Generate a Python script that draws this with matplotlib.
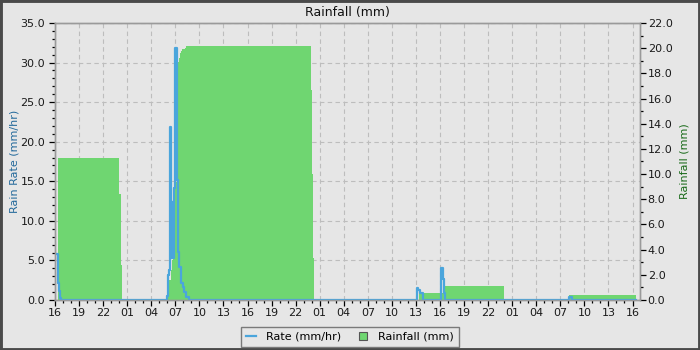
import matplotlib
matplotlib.use("Agg")
import matplotlib.pyplot as plt
import matplotlib.dates as mdates
from matplotlib.ticker import MultipleLocator, FormatStrFormatter
from matplotlib.lines import Line2D
from matplotlib.patches import Rectangle
import pandas as pd

# ---------------- data ----------------
rate_times = [
    "2024-05-20 16:12", "2024-05-20 16:20", "2024-05-20 16:27", "2024-05-20 16:35", "2024-05-20 16:42",
    "2024-05-21 05:57", "2024-05-21 06:02", "2024-05-21 06:07", "2024-05-21 06:12", "2024-05-21 06:20",
    "2024-05-21 06:26", "2024-05-21 06:29", "2024-05-21 06:35", "2024-05-21 06:38", "2024-05-21 06:44",
    "2024-05-21 06:48", "2024-05-21 06:55", "2024-05-21 07:01", "2024-05-21 07:09", "2024-05-21 07:14",
    "2024-05-21 07:21", "2024-05-21 07:29", "2024-05-21 07:39", "2024-05-21 07:46", "2024-05-21 07:54",
    "2024-05-21 08:02", "2024-05-21 08:17", "2024-05-21 08:42",
    "2024-05-22 13:07", "2024-05-22 13:17", "2024-05-22 13:32", "2024-05-22 13:50",
    "2024-05-22 16:07", "2024-05-22 16:25", "2024-05-22 16:32", "2024-05-22 16:40",
    "2024-05-23 08:05", "2024-05-23 08:30", "2024-05-23 16:25",
]
rate_values = [
    5.8, 2.1, 1.2, 0.2, 0.0,
    0.5, 1.3, 3.2, 3.8, 21.9,
    5.3, 12.4, 5.3, 12.4, 5.3,
    14.1, 15.6, 31.8, 26.9, 15.2,
    6.1, 4.2, 3.5, 2.1, 1.7,
    1.0, 0.4, 0.0,
    1.5, 1.3, 0.85, 0.0,
    4.1, 2.7, 0.85, 0.0,
    0.4, 0.0, 0.0,
]

rain_times = [
    "2024-05-20 16:20", "2024-05-21 00:00", "2024-05-21 00:10", "2024-05-21 00:20",
    "2024-05-21 05:47", "2024-05-21 05:55", "2024-05-21 06:05", "2024-05-21 06:15", "2024-05-21 06:25",
    "2024-05-21 06:35", "2024-05-21 06:45", "2024-05-21 06:52", "2024-05-21 07:00", "2024-05-21 07:10",
    "2024-05-21 07:18", "2024-05-21 07:25", "2024-05-21 07:33", "2024-05-21 07:40", "2024-05-21 07:48",
    "2024-05-21 08:10", "2024-05-21 08:20",
    "2024-05-21 23:55", "2024-05-22 00:02", "2024-05-22 00:09", "2024-05-22 00:16",
    "2024-05-22 13:20", "2024-05-22 16:35", "2024-05-23 00:02",
    "2024-05-23 08:08", "2024-05-23 16:25",
]
rain_values = [
    11.3, 8.4, 2.8, 0.0,
    0.3, 0.6, 1.0, 1.6, 2.4,
    3.2, 4.0, 6.0, 9.4, 18.0,
    18.9, 19.2, 19.6, 19.8, 19.9,
    20.0, 20.2,
    16.7, 10.0, 3.3, 0.0,
    0.55, 1.13, 0.0,
    0.4, 0.4,
]

x_start = "2024-05-20 16:00"
x_end = "2024-05-23 16:56"

# ---------------- style ----------------
BG = "#e6e6e6"
BLUE = "#4aa5dc"
GREEN = "#6fd671"
SPINE = "#9a9a9a"
GRID = "#bdbdbd"

rt = pd.to_datetime(rate_times)
nt = pd.to_datetime(rain_times)

fig = plt.figure(figsize=(7, 3.5), dpi=100, facecolor=BG)
ax = fig.add_axes([55 / 700, 50 / 350, 585 / 700, 277 / 350], facecolor=BG)
ax2 = ax.twinx()

ax.set_ylim(0, 35)
ax2.set_ylim(0, 22)
ax.set_xlim(pd.Timestamp(x_start), pd.Timestamp(x_end))

# rainfall (right axis scale), drawn inside the main axes so the rate line sits on top
ax.fill_between(nt, rain_values, step="post", transform=ax2.transData,
                color=GREEN, linewidth=0, zorder=1)
ax.plot(rt, rate_values, drawstyle="steps-post", color=BLUE, lw=1.6, zorder=3)

ax.set_ylim(0, 35)
ax.set_xlim(pd.Timestamp(x_start), pd.Timestamp(x_end))

# grid
ax.set_axisbelow(True)
ax.grid(True, which="major", color=GRID, linestyle=(0, (4, 3)), linewidth=0.8)

# ticks
ax.xaxis.set_major_locator(mdates.HourLocator(byhour=[1, 4, 7, 10, 13, 16, 19, 22]))
ax.xaxis.set_minor_locator(mdates.HourLocator())
ax.xaxis.set_major_formatter(mdates.DateFormatter("%H"))
ax.yaxis.set_major_locator(MultipleLocator(5))
ax.yaxis.set_minor_locator(MultipleLocator(1))
ax.yaxis.set_major_formatter(FormatStrFormatter("%.1f"))
ax2.yaxis.set_major_locator(MultipleLocator(2))
ax2.yaxis.set_minor_locator(MultipleLocator(1))
ax2.yaxis.set_major_formatter(FormatStrFormatter("%.1f"))

for a in (ax, ax2):
    a.tick_params(which="major", direction="out", length=4, width=0.9, color="black",
                  labelsize=8, labelcolor="#1a1a1a")
    a.tick_params(which="minor", direction="out", length=2.3, width=0.9, color="black")
    for s in a.spines.values():
        s.set_color(SPINE)
        s.set_linewidth(1.0)
ax.tick_params(axis="y", which="major", pad=3)
ax.tick_params(axis="x", which="major", pad=2)
ax2.tick_params(axis="y", which="major", pad=1.5)

# labels
ax.set_title("Rainfall (mm)", fontsize=9, pad=5, color="#111111")
ax.set_ylabel("Rain Rate (mm/hr)", fontsize=8, color="#23699b")
ax.yaxis.set_label_coords(-35 / 585, 0.5)
ax2.set_ylabel("Rainfall (mm)", fontsize=8, color="#1a6b1a")
ax2.yaxis.set_label_coords(1 + 39 / 585, 0.5)

# legend
handles = [
    Line2D([], [], color=BLUE, lw=1.6),
    Line2D([], [], color="none", marker="s", markersize=6,
           markerfacecolor=GREEN, markeredgecolor="#555555", markeredgewidth=0.8),
]
leg = fig.legend(handles, ["Rate (mm/hr)", "Rainfall (mm)"], loc="lower center",
                 bbox_to_anchor=(0.5, 0.0), ncol=2, fontsize=8, frameon=True,
                 fancybox=False, framealpha=1, facecolor=BG, edgecolor="#7a7a7a",
                 handlelength=0.9, handletextpad=0.9, columnspacing=1.5,
                 borderpad=0.45, borderaxespad=0.3)
leg.get_frame().set_linewidth(1.0)

# figure border
fig.patches.append(Rectangle((0, 0), 1, 1, transform=fig.transFigure, fill=False,
                             edgecolor="#4a4a4a", linewidth=3.5, zorder=10))

fig.savefig("out.png", dpi=100, facecolor=BG)
